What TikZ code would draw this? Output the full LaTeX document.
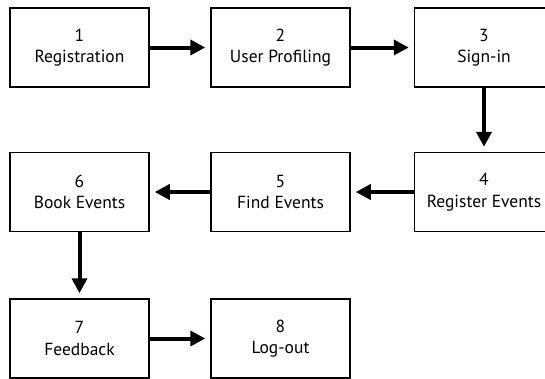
\documentclass[tikz,border=0pt]{standalone}
\usepackage{fontspec}
\setmainfont{PT Sans}
\usetikzlibrary{arrows.meta, positioning}

\begin{document}
\begin{tikzpicture}[
  x=1pt, y=-1pt,
  stage/.style={draw, line width=1.5pt, minimum width=139pt, minimum height=79pt,
                align=center, inner sep=0pt, font=\fontsize{17.5}{21.5}\selectfont},
  flow/.style={line width=4pt, -{Triangle[length=15pt, width=15pt]}, shorten >=5pt},
]
  \useasboundingbox (0,0) rectangle (545,378);
  \clip (0,0) rectangle (545,378);

  % top row, left to right
  \node[stage] (reg)  at (79.5,47.5)  {1\\Registration};
  \node[stage] (prof) at (280.5,47.5) {2\\User Profiling};
  \node[stage] (sign) at (484,47.5)   {3\\Sign-in};

  % middle row, right to left
  \node[stage] (regev)  at (484,192)   {4\\Register Events};
  \node[stage] (find)   at (280.5,192) {5\\Find Events};
  \node[stage] (book)   at (79.5,192)  {6\\Book Events};

  % bottom row
  \node[stage] (fback) at (79.5,338.5)  {7\\Feedback};
  \node[stage] (logout) at (280.5,338.5) {8\\Log-out};

  % connectors
  \draw[flow] (reg) -- (prof);
  \draw[flow] (prof) -- (sign);
  \draw[flow] (sign) -- (regev);
  \draw[flow] (regev) -- (find);
  \draw[flow] (find) -- (book);
  \draw[flow] (book) -- (fback);
  \draw[flow] (fback) -- (logout);
\end{tikzpicture}
\end{document}
